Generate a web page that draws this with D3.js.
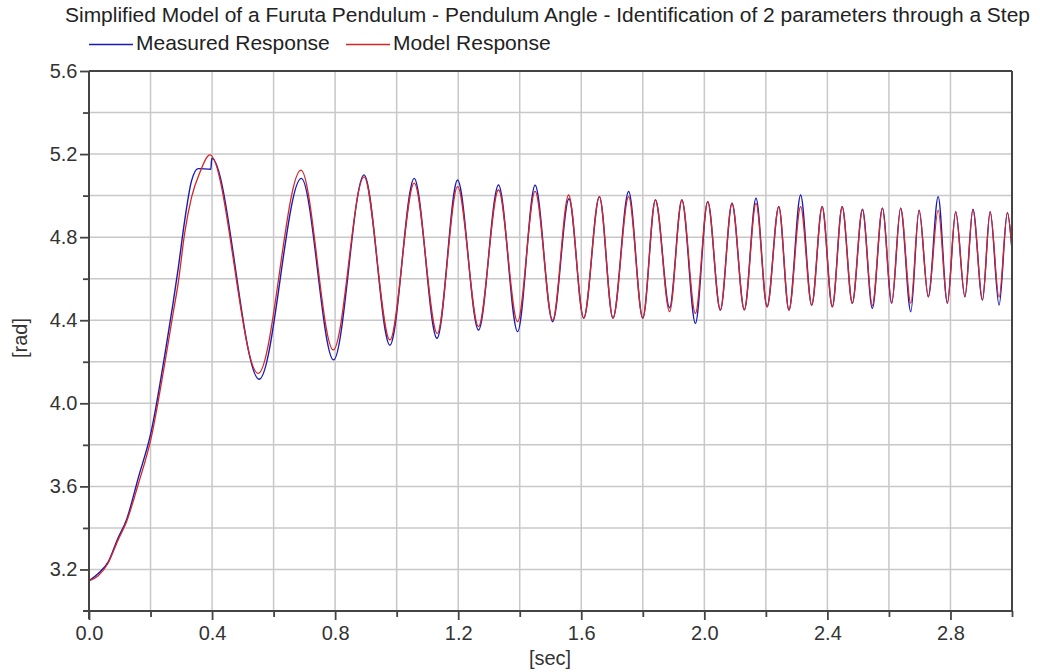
<!DOCTYPE html>
<html lang="en">
<head>
  <meta charset="UTF-8">
  <title>Furuta Pendulum</title>
  <style>
    body { margin: 0; background: #fff; }
    text { font-family: "Liberation Sans", Arial, sans-serif; fill: #333; }
  </style>
</head>
<body>
  <script src="https://d3js.org/d3.v7.min.js"></script>
  <div id="my_dataviz"></div>
  <script>
    // pendulum angle (peaks / troughs after the first swing)
    var timeModel = [0, 0.03, 0.062, 0.094, 0.122, 0.16, 0.203, 0.246, 0.273, 0.29, 0.311, 0.333, 0.36, 0.393,
      0.55, 0.689, 0.794, 0.894, 0.978, 1.057, 1.132, 1.198, 1.266, 1.331, 1.393, 1.45, 1.507, 1.559, 1.608,
      1.659, 1.703, 1.754, 1.8, 1.841, 1.887, 1.927, 1.971, 2.011, 2.052, 2.09, 2.13, 2.168, 2.204, 2.242,
      2.275, 2.313, 2.349, 2.383, 2.416, 2.448, 2.481, 2.514, 2.546, 2.579, 2.609, 2.638, 2.671, 2.698,
      2.728, 2.76, 2.79, 2.817, 2.847, 2.873, 2.904, 2.929, 2.958, 2.985, 3.0]
    var valueModel = [3.145, 3.17, 3.23, 3.34, 3.43, 3.61, 3.84, 4.19, 4.43, 4.58, 4.82, 4.99, 5.11, 5.196,
      4.144, 5.123, 4.257, 5.09, 4.305, 5.06, 4.337, 5.043, 4.37, 5.027, 4.393, 5.02, 4.40, 5.003, 4.41,
      4.995, 4.41, 4.995, 4.41, 4.979, 4.441, 4.979, 4.433, 4.971, 4.449, 4.963, 4.45, 4.963, 4.465, 4.947,
      4.449, 4.947, 4.473, 4.947, 4.465, 4.947, 4.482, 4.934, 4.47, 4.94, 4.482, 4.94, 4.482, 4.93,
      4.513, 4.93, 4.482, 4.923, 4.513, 4.934, 4.497, 4.923, 4.51, 4.918, 4.74]

    var timeMeasured = [0, 0.03, 0.062, 0.094, 0.122, 0.16, 0.203, 0.246, 0.273, 0.29, 0.311, 0.333, 0.355, 0.396, 0.399,
      0.553, 0.69, 0.795, 0.894, 0.978, 1.057, 1.131, 1.198, 1.266, 1.331, 1.393, 1.45, 1.507, 1.56, 1.608,
      1.659, 1.703, 1.754, 1.8, 1.841, 1.887, 1.927, 1.971, 2.011, 2.052, 2.09, 2.13, 2.168, 2.204, 2.242,
      2.275, 2.313, 2.349, 2.383, 2.416, 2.448, 2.481, 2.514, 2.546, 2.579, 2.609, 2.638, 2.671, 2.698,
      2.728, 2.76, 2.79, 2.817, 2.847, 2.873, 2.904, 2.929, 2.958, 2.985, 3.0]
    var valueMeasured = [3.145, 3.18, 3.235, 3.35, 3.44, 3.64, 3.87, 4.23, 4.48, 4.65, 4.88, 5.07, 5.13, 5.127, 5.18,
      4.116, 5.083, 4.209, 5.10, 4.28, 5.083, 4.313, 5.075, 4.353, 5.051, 4.345, 5.05, 4.393, 4.985, 4.41,
      4.995, 4.41, 5.02, 4.41, 4.979, 4.46, 4.979, 4.385, 4.971, 4.449, 4.963, 4.45, 4.987, 4.465, 4.947,
      4.449, 5.003, 4.473, 4.947, 4.465, 4.947, 4.482, 4.934, 4.457, 4.94, 4.482, 4.94, 4.441, 4.93,
      4.513, 4.995, 4.482, 4.923, 4.513, 4.934, 4.497, 4.923, 4.473, 4.918, 4.74]

    var xMajor = [0, 0.4, 0.8, 1.2, 1.6, 2.0, 2.4, 2.8]
    var xMinor = [0.2, 0.6, 1.0, 1.4, 1.8, 2.2, 2.6, 3.0]
    var yMajor = [3.2, 3.6, 4.0, 4.4, 4.8, 5.2, 5.6]
    var yMinor = [3.4, 3.8, 4.2, 4.6, 5.0, 5.4]

    var margin = { top: 71, right: 28, bottom: 61, left: 89 },
      width = 1040 - margin.left - margin.right,
      height = 672 - margin.top - margin.bottom;

    var root = d3.select("#my_dataviz")
      .append("svg")
      .attr("width", 1040)
      .attr("height", 672)

    var svg = root.append("g")
      .attr("transform", "translate(" + margin.left + "," + margin.top + ")");

    var x = d3.scaleLinear().domain([0, 3]).range([0, width])
    var y = d3.scaleLinear().domain([3.0, 5.6]).range([height, 0])

    // grid
    svg.append("g")
      .selectAll("line.vg")
      .data(xMajor.concat(xMinor).filter(d => d > 0 && d < 3))
      .enter().append("line")
      .attr("x1", d => x(d)).attr("x2", d => x(d))
      .attr("y1", 0).attr("y2", height)
      .style("stroke", "#c8c8c8").style("stroke-width", 1.5)
    svg.append("g")
      .selectAll("line.hg")
      .data(yMajor.concat(yMinor).filter(d => d < 5.6))
      .enter().append("line")
      .attr("x1", 0).attr("x2", width)
      .attr("y1", d => y(d)).attr("y2", d => y(d))
      .style("stroke", "#c8c8c8").style("stroke-width", 1.5)

    // curves
    function path(times, values) {
      return d3.line()
        .x(i => x(times[i]))
        .y(i => y(values[i]))
        .curve(d3.curveMonotoneX)(d3.range(times.length))
    }

    svg.append("path")
      .attr("d", path(timeMeasured, valueMeasured))
      .style("fill", "none")
      .style("stroke", "#1a1ab4")
      .style("stroke-width", 1.4)

    svg.append("path")
      .attr("d", path(timeModel, valueModel))
      .style("fill", "none")
      .style("stroke", "#d42626")
      .style("stroke-width", 1.3)

    // axes
    function styleAxis(g) {
      g.select(".domain").remove()
      g.selectAll("line").style("stroke", "#444").style("stroke-width", 1.8)
      g.selectAll("text").style("font-size", "20px").style("fill", "#333")
    }

    svg.append("g")
      .attr("transform", "translate(0," + height + ")")
      .call(d3.axisBottom(x).tickValues(xMinor).tickSize(6).tickFormat(""))
      .call(styleAxis)
    svg.append("g")
      .attr("transform", "translate(0," + height + ")")
      .call(d3.axisBottom(x).tickValues(xMajor).tickSize(9).tickPadding(6).tickFormat(d3.format(".1f")))
      .call(styleAxis)

    svg.append("g")
      .call(d3.axisLeft(y).tickValues(yMinor).tickSize(6).tickFormat(""))
      .call(styleAxis)
    svg.append("g")
      .call(d3.axisLeft(y).tickValues(yMajor).tickSize(9).tickPadding(2.5).tickFormat(d3.format(".1f")))
      .call(styleAxis)

    // frame lines
    var frame = [[-6, height, width, height], [0, 0, 0, height + 8], [0, 0, width, 0], [width, 0, width, height]]
    svg.selectAll("line.frame")
      .data(frame)
      .enter().append("line")
      .attr("x1", d => d[0]).attr("y1", d => d[1]).attr("x2", d => d[2]).attr("y2", d => d[3])
      .style("stroke", "#444").style("stroke-width", 2)

    // axis titles
    root.append("text")
      .attr("x", 550).attr("y", 665)
      .style("text-anchor", "middle").style("font-size", "20px")
      .text("[sec]")
    root.append("text")
      .attr("transform", "translate(27,338) rotate(-90)")
      .style("text-anchor", "middle").style("font-size", "20px")
      .text("[rad]")

    // title
    root.append("text")
      .attr("x", 65).attr("y", 22)
      .attr("textLength", 965).attr("lengthAdjust", "spacingAndGlyphs")
      .style("font-size", "20.5px")
      .style("fill", "#222")
      .text("Simplified Model of a Furuta Pendulum - Pendulum Angle - Identification of 2 parameters through a Step")

    // legend
    var legendNames = ["Measured Response", "Model Response"]
    var legendColors = ["#1a1ab4", "#d42626"]
    var legendX = [89, 346]
    var lg = root.selectAll("g.legend")
      .data(legendNames)
      .enter().append("g")
      .attr("transform", (d, i) => "translate(" + legendX[i] + ",0)")
    lg.append("line")
      .attr("x1", 0).attr("x2", 44).attr("y1", 44.5).attr("y2", 44.5)
      .style("stroke", (d, i) => legendColors[i]).style("stroke-width", 1.5)
    lg.append("text")
      .attr("x", 47).attr("y", 50)
      .style("font-size", "21px").style("fill", "#222")
      .text(d => d)
  </script>
</body>
</html>
